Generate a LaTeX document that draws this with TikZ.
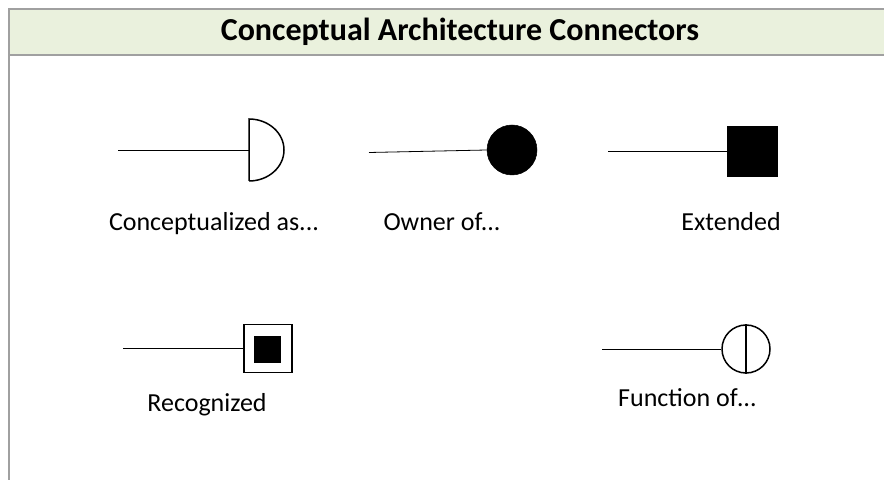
\documentclass[tikz,border=0pt]{standalone}
\usepackage{fontspec}
\setmainfont{Carlito}
\definecolor{frame}{HTML}{A0A0A0}
\definecolor{headfill}{HTML}{EAF1DD}
\tikzset{
  wire/.style={draw=black, line width=0.8bp},
  outline/.style={draw=black, line width=1.5bp},
  solid shape/.style={fill=black, draw=black, line width=0.5bp, inner sep=0pt},
  caption/.style={font=\fontsize{26bp}{30bp}\selectfont, inner sep=0pt, anchor=base},
}
\begin{document}
\begin{tikzpicture}[x=1bp, y=-1bp]
\useasboundingbox (0,0) rectangle (884,480);
% panel frame and title band
\fill[headfill] (9,9) rectangle (890,55);
\draw[frame, line width=1.6bp] (890,9) -- (9,9) -- (9,490);
\draw[frame, line width=1.6bp] (9,55) -- (890,55);
\node[font=\bfseries\fontsize{32bp}{36bp}\selectfont, inner sep=0pt] (title) at (460,32) {Conceptual Architecture Connectors};

% Conceptualized as...: half-disc end
\coordinate (cA) at (118,150);
\coordinate (cAtop) at (249,119);
\coordinate (cAbot) at (249,181);
\coordinate (cAmid) at (249,150);
\draw[outline] (cAbot) -- (cAtop) arc[start angle=-90, end angle=90, x radius=35, y radius=31];
\draw[wire] (cA) -- (cAmid);
\node[caption] (lA) at (214,231) {Conceptualized as...};

% Owner of...: filled circle end
\node[solid shape, circle, minimum size=50bp] (own) at (512,150) {};
\coordinate (cB) at (369,152.5);
\draw[wire] (cB) -- (own.west);
\node[caption] (lB) at (442,231) {Owner of...};

% Extended: filled square end
\node[solid shape, rectangle, minimum size=50bp] (ext) at (752.5,151) {};
\coordinate (cC) at (608,151);
\draw[wire] (cC) -- (ext.west);
\node[caption] (lC) at (731,231) {Extended};

% Recognized: square in square end
\node[outline, rectangle, minimum size=48bp, inner sep=0pt] (rec) at (268,348.5) {};
\node[solid shape, rectangle, minimum size=26bp] (recin) at (267.5,349) {};
\coordinate (cD) at (123,348.5);
\draw[wire] (cD) -- (rec.west);
\node[caption] (lD) at (207,411) {Recognized};

% Function of...: split circle end
\node[outline, circle, minimum size=48bp, inner sep=0pt] (fun) at (746,349) {};
\draw[outline] (fun.north) -- (fun.south);
\coordinate (cE) at (602,349);
\draw[wire] (cE) -- (fun.west);
\node[caption] (lE) at (687,406) {Function of…};
\end{tikzpicture}
\end{document}
